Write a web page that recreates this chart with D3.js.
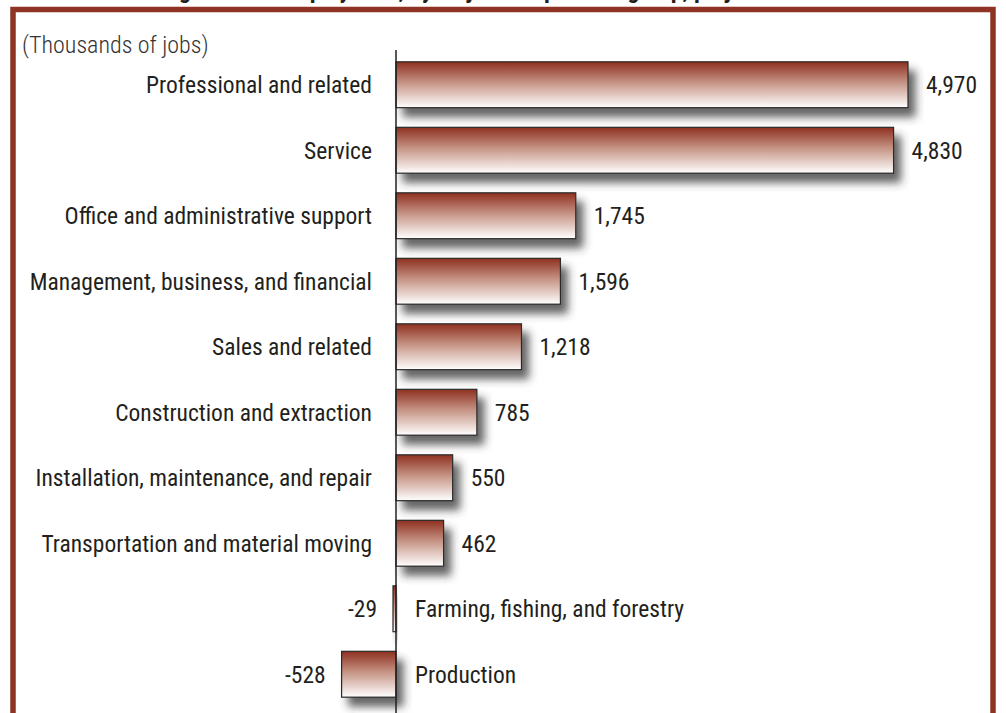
<!DOCTYPE html>
<html>
<head>
<meta charset="utf-8">
<title>Employment change by occupational group</title>
<script src="https://d3js.org/d3.v7.min.js"></script>
<style>
	body { margin: 0; background: #fff; }
	svg text { font-family: "Liberation Sans Narrow", "Roboto Condensed", "DejaVu Sans Condensed", sans-serif; fill: #231f20; }
</style>
</head>
<body>
<svg id="chart" width="1006" height="713"></svg>
<script>
	// data
	var categories = [
		"Professional and related",
		"Service",
		"Office and administrative support",
		"Management, business, and financial",
		"Sales and related",
		"Construction and extraction",
		"Installation, maintenance, and repair",
		"Transportation and material moving",
		"Farming, fishing, and forestry",
		"Production"
	];
	var values = [4970, 4830, 1745, 1596, 1218, 785, 550, 462, -29, -528];
	var unitLabel = "(Thousands of jobs)";
	var title = "Change in total employment, by major occupational group, projected 2008–18";

	var svg = d3.select("#chart");
	var fmt = function(v) { return d3.format(",")(v).replace("\u2212", "-"); };

	// defs: gradient + shadow
	var defs = svg.append("defs");
	var grad = defs.append("linearGradient")
		.attr("id", "barfill")
		.attr("x1", 0).attr("y1", 0).attr("x2", 0).attr("y2", 1);
	grad.append("stop").attr("offset", "0%").attr("stop-color", "#8e3020");
	grad.append("stop").attr("offset", "45%").attr("stop-color", "#c59384");
	grad.append("stop").attr("offset", "100%").attr("stop-color", "#ffffff");

	var shadow = defs.append("filter")
		.attr("id", "shadow")
		.attr("x", "-20%").attr("y", "-20%")
		.attr("width", "160%").attr("height", "160%");
	shadow.append("feDropShadow")
		.attr("dx", 7).attr("dy", 9)
		.attr("stdDeviation", 4)
		.attr("flood-color", "#333")
		.attr("flood-opacity", 0.75);

	// title, clipped at the top of the picture as in the original
	svg.append("text")
		.attr("x", 503).attr("y", -2)
		.attr("text-anchor", "middle")
		.style("font-size", "24px")
		.style("font-weight", "bold")
		.text(title);

	// frame
	svg.append("rect")
		.attr("x", 13).attr("y", 9.5)
		.attr("width", 980).attr("height", 720)
		.attr("fill", "none")
		.attr("stroke", "#8f3325")
		.attr("stroke-width", 5.5);

	// scales
	var x = d3.scaleLinear()
		.domain([0, 4970])
		.range([396, 908]);

	var y = d3.scaleBand()
		.domain(categories)
		.range([52, 707])
		.paddingInner(0.3)
		.paddingOuter(0.15);

	svg.append("text")
		.attr("x", 22).attr("y", 53)
		.style("font-size", "24px")
		.style("font-weight", "300")
		.style("fill", "#333")
		.text(unitLabel);

	var rows = categories.map(function(c, i) { return {name: c, value: values[i]}; });

	// bars
	svg.append("g").selectAll("rect")
		.data(rows)
		.enter()
		.append("rect")
		.attr("x", function(d) { return Math.min(x(0), x(d.value)); })
		.attr("y", function(d) { return y(d.name); })
		.attr("width", function(d) { return Math.abs(x(d.value) - x(0)); })
		.attr("height", y.bandwidth())
		.attr("fill", "url(#barfill)")
		.attr("stroke", "#2a2a2a")
		.attr("stroke-width", 1.2)
		.attr("filter", "url(#shadow)");

	// zero axis
	svg.append("line")
		.attr("x1", x(0)).attr("x2", x(0))
		.attr("y1", 50).attr("y2", 713)
		.attr("stroke", "#231f20")
		.attr("stroke-width", 1.5);

	// category labels
	svg.append("g").selectAll("text")
		.data(rows)
		.enter()
		.append("text")
		.attr("x", function(d) { return d.value >= 0 ? x(0) - 24 : x(0) + 19; })
		.attr("y", function(d) { return y(d.name) + y.bandwidth() / 2; })
		.attr("dy", "0.36em")
		.attr("text-anchor", function(d) { return d.value >= 0 ? "end" : "start"; })
		.style("font-size", "23.5px")
		.text(function(d) { return d.name; });

	// value labels
	svg.append("g").selectAll("text")
		.data(rows)
		.enter()
		.append("text")
		.attr("x", function(d) { return d.value >= 0 ? x(d.value) + 18 : x(d.value) - 16; })
		.attr("y", function(d) { return y(d.name) + y.bandwidth() / 2; })
		.attr("dy", "0.36em")
		.attr("text-anchor", function(d) { return d.value >= 0 ? "start" : "end"; })
		.style("font-size", "23.5px")
		.text(function(d) { return fmt(d.value); });
</script>
</body>
</html>
